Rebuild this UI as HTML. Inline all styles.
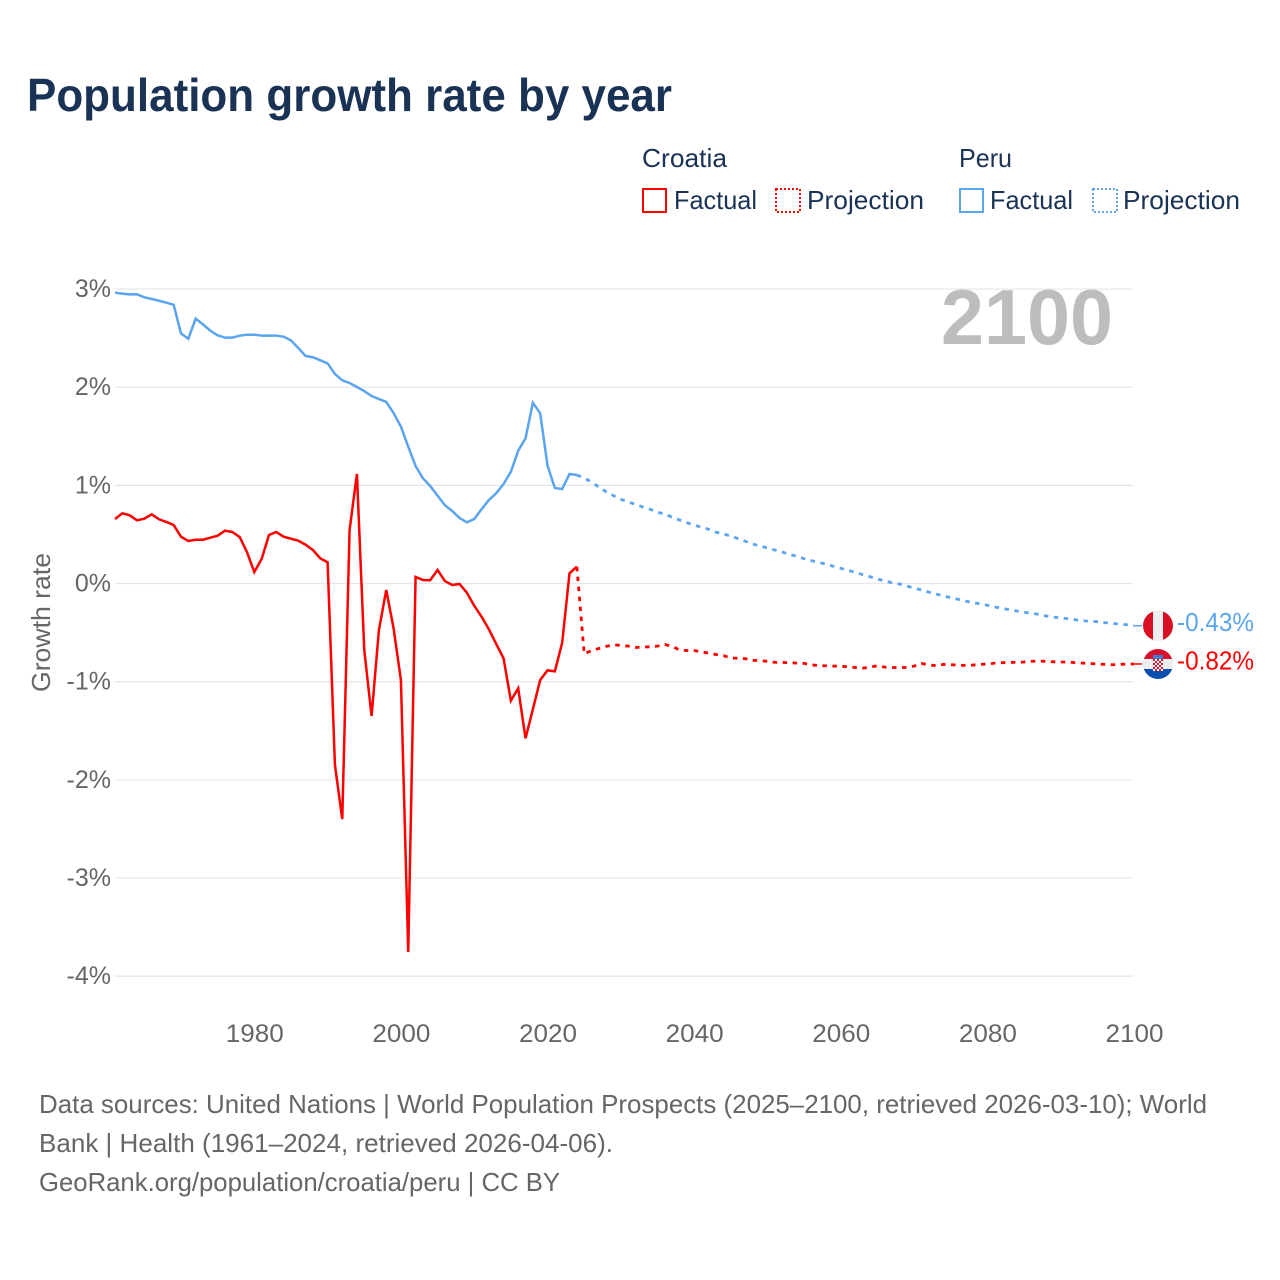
<!DOCTYPE html>
<html lang="en">
<head>
<meta charset="utf-8">
<title>Population growth rate by year</title>
<style>
html,body{margin:0;padding:0;background:#fff;}
svg{display:block;font-family:"Liberation Sans",sans-serif;}
</style>
</head>
<body>
<svg id="chart" xmlns="http://www.w3.org/2000/svg" width="1280" height="1280" viewBox="0 0 1280 1280">
  <defs>
    <clipPath id="flag-clip-peru"><circle cx="0" cy="0" r="15"></circle></clipPath>
    <clipPath id="flag-clip-croatia"><circle cx="0" cy="0" r="15"></circle></clipPath>
  </defs>
  <rect width="1280" height="1280" fill="#fff"></rect>

  <text x="27" y="111" font-size="46" font-weight="700" fill="#1a3355" textLength="645" lengthAdjust="spacingAndGlyphs">Population growth rate by year</text>

  <g font-size="26" fill="#1a3355">
    <text x="642" y="167" textLength="85" lengthAdjust="spacingAndGlyphs">Croatia</text>
    <text x="959" y="167" textLength="53" lengthAdjust="spacingAndGlyphs">Peru</text>

    <rect x="643" y="189" width="23" height="23" fill="none" stroke="#ff0000" stroke-width="2"></rect>
    <text x="674" y="209" textLength="83" lengthAdjust="spacingAndGlyphs">Factual</text>
    <rect x="776" y="189" width="24" height="23" fill="none" stroke="#ff0000" stroke-width="2" stroke-dasharray="2 2"></rect>
    <text x="807" y="209" textLength="117" lengthAdjust="spacingAndGlyphs">Projection</text>

    <rect x="960" y="189" width="23" height="23" fill="none" stroke="#5ba4ee" stroke-width="2"></rect>
    <text x="990" y="209" textLength="83" lengthAdjust="spacingAndGlyphs">Factual</text>
    <rect x="1093" y="189" width="24" height="23" fill="none" stroke="#5ba4ee" stroke-width="2" stroke-dasharray="2 2"></rect>
    <text x="1123" y="209" textLength="117" lengthAdjust="spacingAndGlyphs">Projection</text>
  </g>

  <g id="grid"></g>
  <g id="y-ticks"></g>
  <g id="x-ticks"></g>

  <text transform="translate(50,692) rotate(-90)" font-size="26" fill="#666" textLength="139" lengthAdjust="spacingAndGlyphs">Growth rate</text>

  <text x="1113" y="344" text-anchor="end" font-size="78" font-weight="700" fill="#bdbdbd" textLength="172" lengthAdjust="spacingAndGlyphs">2100</text>

  <g id="series"></g>

  <g id="flag-peru" clip-path="url(#flag-clip-peru)">
    <rect x="-15" y="-15" width="30" height="30" fill="#d91023"></rect>
    <rect x="-5" y="-15" width="10" height="30" fill="#eeeeee"></rect>
  </g>
  <g id="flag-croatia" clip-path="url(#flag-clip-croatia)">
    <rect x="-15" y="-15" width="30" height="10" fill="#d8102f"></rect>
    <rect x="-15" y="-5" width="30" height="10" fill="#eeeeee"></rect>
    <rect x="-15" y="5" width="30" height="10" fill="#0a4fae"></rect>
    <rect x="-5" y="-9" width="10" height="4" fill="#3f7fd0"></rect>
    <g id="croatia-shield"></g>
  </g>

  <text id="end-label-peru" x="1177" font-size="26" fill="#5ba4ee" textLength="77" lengthAdjust="spacingAndGlyphs"></text>
  <text id="end-label-croatia" x="1177" font-size="26" fill="#ff0000" textLength="77" lengthAdjust="spacingAndGlyphs"></text>

  <g font-size="26" fill="#666">
    <text x="39" y="1113" textLength="1168" lengthAdjust="spacingAndGlyphs">Data sources: United Nations | World Population Prospects (2025–2100, retrieved 2026-03-10); World</text>
    <text x="39" y="1152" textLength="574" lengthAdjust="spacingAndGlyphs">Bank | Health (1961–2024, retrieved 2026-04-06).</text>
    <text x="39" y="1191" textLength="521" lengthAdjust="spacingAndGlyphs">GeoRank.org/population/croatia/peru | CC BY</text>
  </g>
</svg>

<script>
var yTickValues = [3, 2, 1, 0, -1, -2, -3, -4];
var xTickYears = [1980, 2000, 2020, 2040, 2060, 2080, 2100];
var firstFactualYear = 1961;
var firstProjectionYear = 2025;

var croatiaFactual = [
  0.657, 0.715, 0.695, 0.644, 0.66, 0.705, 0.654, 0.627, 0.596, 0.477,
  0.433, 0.446, 0.446, 0.467, 0.487, 0.538, 0.525, 0.474, 0.32, 0.117,
  0.25, 0.494, 0.525, 0.477, 0.457, 0.436, 0.395, 0.341, 0.256, 0.216,
  -1.85, -2.40, 0.545, 1.116, -0.678, -1.35, -0.474, -0.066, -0.456, -0.983,
  -3.755, 0.066, 0.036, 0.033, 0.138, 0.025, -0.015, -0.005, -0.094, -0.226,
  -0.338, -0.467, -0.616, -0.762, -1.194, -1.068, -1.577, -1.282, -0.983, -0.885,
  -0.895, -0.603, 0.104, 0.171
];
var croatiaProjection = [
  -0.717, -0.683, -0.662, -0.641, -0.624, -0.631, -0.638, -0.652, -0.648, -0.645,
  -0.638, -0.621, -0.641, -0.676, -0.683, -0.683, -0.697, -0.71, -0.724, -0.735,
  -0.759, -0.762, -0.766, -0.783, -0.786, -0.793, -0.804, -0.804, -0.807, -0.811,
  -0.814, -0.828, -0.838, -0.838, -0.842, -0.842, -0.849, -0.856, -0.862, -0.852,
  -0.838, -0.852, -0.856, -0.856, -0.856, -0.842, -0.814, -0.828, -0.838, -0.824,
  -0.828, -0.831, -0.835, -0.831, -0.824, -0.821, -0.811, -0.807, -0.804, -0.804,
  -0.8, -0.793, -0.79, -0.793, -0.797, -0.8, -0.8, -0.807, -0.811, -0.814,
  -0.821, -0.824, -0.828, -0.824, -0.821, -0.82
];
var peruFactual = [
  2.963, 2.953, 2.946, 2.946, 2.916, 2.899, 2.881, 2.861, 2.84, 2.549,
  2.494, 2.698, 2.64, 2.576, 2.528, 2.505, 2.505, 2.525, 2.535, 2.535,
  2.525, 2.525, 2.525, 2.515, 2.477, 2.399, 2.318, 2.305, 2.274, 2.243,
  2.135, 2.07, 2.043, 2.002, 1.961, 1.91, 1.88, 1.85, 1.737, 1.598,
  1.394, 1.197, 1.072, 0.993, 0.895, 0.797, 0.739, 0.667, 0.623, 0.657,
  0.756, 0.851, 0.919, 1.014, 1.139, 1.353, 1.479, 1.842, 1.734, 1.2,
  0.973, 0.963, 1.116, 1.105
];
var peruProjection = [
  1.075, 1.034, 0.983, 0.935, 0.895, 0.858, 0.83, 0.807, 0.779, 0.756,
  0.725, 0.708, 0.674, 0.647, 0.62, 0.596, 0.572, 0.552, 0.522, 0.504,
  0.484, 0.457, 0.43, 0.402, 0.382, 0.362, 0.341, 0.321, 0.297, 0.277,
  0.253, 0.232, 0.216, 0.196, 0.175, 0.155, 0.134, 0.114, 0.09, 0.069,
  0.046, 0.025, 0.008, -0.005, -0.025, -0.049, -0.066, -0.087, -0.107, -0.127,
  -0.145, -0.161, -0.178, -0.196, -0.206, -0.222, -0.239, -0.253, -0.267, -0.28,
  -0.293, -0.304, -0.314, -0.331, -0.344, -0.348, -0.359, -0.369, -0.379, -0.385,
  -0.389, -0.399, -0.406, -0.413, -0.42, -0.43
];

var NS = 'http://www.w3.org/2000/svg';
var RED = '#ff0000';
var BLUE = '#5ba4ee';

function xScale(year) { return 115 + (year - 1961) * (1134 - 115) / (2100 - 1961); }
function yScale(value) { return 583.5 - value * 98.15; }

function makeEl(tag, parent) {
  var el = document.createElementNS(NS, tag);
  parent.appendChild(el);
  return el;
}

function pointsFrom(values, startYear) {
  return values.map(function (v, i) {
    return xScale(startYear + i).toFixed(2) + ',' + yScale(v).toFixed(2);
  }).join(' ');
}

var gridGroup = document.getElementById('grid');
var yTickGroup = document.getElementById('y-ticks');
var xTickGroup = document.getElementById('x-ticks');
var seriesGroup = document.getElementById('series');

yTickValues.forEach(function (v) {
  var line = makeEl('line', gridGroup);
  
  
  line.setAttribute('x1', 115);
  line.setAttribute('x2', 1133);
  line.setAttribute('y1', yScale(v));
  line.setAttribute('y2', yScale(v));
  line.setAttribute('stroke', '#e6e6e6');
  line.setAttribute('stroke-width', '1.2');

  var label = makeEl('text', yTickGroup);
  
  
  label.setAttribute('x', 111);
  label.setAttribute('y', yScale(v) + 8);
  label.setAttribute('text-anchor', 'end');
  label.setAttribute('font-size', '25');
  label.setAttribute('fill', '#666');
  label.textContent = v + '%';
});

xTickYears.forEach(function (year) {
  var label = makeEl('text', xTickGroup);
  
  
  label.setAttribute('x', xScale(year) + 0.5);
  label.setAttribute('y', 1042);
  label.setAttribute('text-anchor', 'middle');
  label.setAttribute('font-size', '25');
  label.setAttribute('fill', '#666');
  label.setAttribute('textLength', '58');
  label.setAttribute('lengthAdjust', 'spacingAndGlyphs');
  label.textContent = year;
});

function drawSeries(factual, projection, color) {
  var solid = makeEl('polyline', seriesGroup);
  
  
  solid.setAttribute('points', pointsFrom(factual, firstFactualYear));
  solid.setAttribute('fill', 'none');
  solid.setAttribute('stroke', color);
  solid.setAttribute('stroke-width', '2.5');
  solid.setAttribute('stroke-linejoin', 'miter');

  var lastFactualYear = firstFactualYear + factual.length - 1;
  var joined = [factual[factual.length - 1]].concat(projection);
  var dashed = makeEl('polyline', seriesGroup);
  
  
  dashed.setAttribute('points', pointsFrom(joined, lastFactualYear));
  dashed.setAttribute('fill', 'none');
  dashed.setAttribute('stroke', color);
  dashed.setAttribute('stroke-width', '2.8');
  dashed.setAttribute('stroke-dasharray', '4.5 5.5');

  var endValue = projection[projection.length - 1];
  var connector = makeEl('line', seriesGroup);
  
  
  connector.setAttribute('x1', xScale(2100));
  connector.setAttribute('x2', xScale(2100) + 8);
  connector.setAttribute('y1', yScale(endValue));
  connector.setAttribute('y2', yScale(endValue));
  connector.setAttribute('stroke', color);
  connector.setAttribute('stroke-width', '1.5');
}

drawSeries(croatiaFactual, croatiaProjection, RED);
drawSeries(peruFactual, peruProjection, BLUE);

function placeEnd(flagId, labelId, value) {
  var y = yScale(value);
  document.getElementById(flagId).setAttribute('transform', 'translate(1158,' + y.toFixed(2) + ')');
  var label = document.getElementById(labelId);
  label.setAttribute('y', (y + 5.5).toFixed(2));
  label.textContent = value.toFixed(2) + '%';
}
placeEnd('flag-peru', 'end-label-peru', peruProjection[peruProjection.length - 1]);
placeEnd('flag-croatia', 'end-label-croatia', croatiaProjection[croatiaProjection.length - 1]);

var shield = document.getElementById('croatia-shield');
for (var row = 0; row < 6; row++) {
  for (var col = 0; col < 5; col++) {
    var cell = makeEl('rect', shield);
    cell.setAttribute('x', -5 + col * 2);
    cell.setAttribute('y', -5 + row * 2);
    cell.setAttribute('width', 2);
    cell.setAttribute('height', 2);
    cell.setAttribute('fill', (row + col) % 2 === 0 ? '#d8102f' : '#ffffff');
  }
}
</script>
</body>
</html>
